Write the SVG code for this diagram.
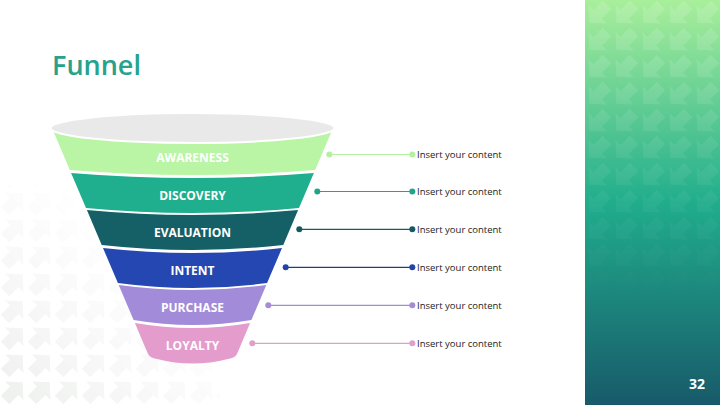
<svg xmlns="http://www.w3.org/2000/svg" width="720" height="405" viewBox="0 0 720 405">
  <defs>
    <linearGradient id="panelGrad" x1="0" y1="0" x2="0" y2="1">
      <stop offset="0" stop-color="#a9ef9b"/>
      <stop offset="0.5" stop-color="#20ad8c"/>
      <stop offset="1" stop-color="#185a6a"/>
    </linearGradient>
    <linearGradient id="fadeV" x1="0" y1="0" x2="0" y2="1">
      <stop offset="0" stop-color="#fff" stop-opacity="1"/>
      <stop offset="0.75" stop-color="#fff" stop-opacity="0"/>
    </linearGradient>
    <linearGradient id="fadeLL" x1="0" y1="1" x2="1" y2="0">
      <stop offset="0" stop-color="#fff" stop-opacity="1"/>
      <stop offset="0.65" stop-color="#fff" stop-opacity="0"/>
    </linearGradient>
    <mask id="panelMask">
      <rect x="585" y="0" width="135" height="405" fill="url(#fadeV)"/>
    </mask>
    <mask id="llMask">
      <rect x="0" y="185" width="220" height="220" fill="url(#fadeLL)"/>
    </mask>
    <pattern id="arrowsLight" x="585" y="0" width="27" height="27" patternUnits="userSpaceOnUse">
      <polygon transform="translate(13.5 13.5) rotate(135)" points="-12,-6 1,-6 1,-13 13,0 1,13 1,6 -12,6" fill="#ffffff" fill-opacity="0.14"/>
    </pattern>
    <pattern id="arrowsGray" x="0" y="0" width="27" height="27" patternUnits="userSpaceOnUse">
      <polygon transform="translate(13.5 13.5) rotate(-45)" points="-12,-6 1,-6 1,-13 13,0 1,13 1,6 -12,6" fill="#eef0ee"/>
    </pattern>
    <style>
      .lbl { font-family: "Open Sans", "Liberation Sans", sans-serif; font-weight: 700; font-size: 12px; fill: #ffffff; text-anchor: middle; }
      .note { font-family: "Open Sans", "Liberation Sans", sans-serif; font-size: 9.5px; fill: #222222; }
      .con line { stroke-width: 1.2; }
    </style>
  </defs>

  <rect x="0" y="0" width="720" height="405" fill="#ffffff"/>
  <rect x="0" y="185" width="220" height="220" fill="url(#arrowsGray)" mask="url(#llMask)"/>

  <g id="side-panel">
    <rect x="585" y="0" width="135" height="405" fill="url(#panelGrad)"/>
    <rect x="585" y="0" width="135" height="405" fill="url(#arrowsLight)" mask="url(#panelMask)"/>
    <text x="697" y="389" font-family="'Open Sans', 'Liberation Sans', sans-serif" font-weight="700" font-size="14" fill="#ffffff" text-anchor="middle">32</text>
  </g>

  <text x="52" y="75" font-family="'Open Sans', 'Liberation Sans', sans-serif" font-weight="600" font-size="27" fill="#27a28b">Funnel</text>

  <g id="awareness">
    <path d="M52,128 L333,128 L315.2,170 Q192.5,180 69.8,170 Z" fill="#b9f5a4"/>
    <text class="lbl" x="192.5" y="161.5">AWARENESS</text>
  </g>
  <g id="funnel-top">
    <ellipse cx="192.5" cy="128" rx="142" ry="15" fill="#e9e9e9" stroke="#ffffff" stroke-width="2"/>
  </g>
  <g id="discovery">
    <path d="M71.1,173 Q192.5,183 313.9,173 L299,208 Q192.5,218 86,208 Z" fill="#1fae8e"/>
    <text class="lbl" x="192.5" y="199.5">DISCOVERY</text>
  </g>
  <g id="evaluation">
    <path d="M86.9,210 Q192.5,220 298.1,210 L283.3,245 Q192.5,255 101.7,245 Z" fill="#146066"/>
    <text class="lbl" x="192.5" y="236.5">EVALUATION</text>
  </g>
  <g id="intent">
    <path d="M103,248 Q192.5,258 282,248 L267.1,283 Q192.5,293 117.9,283 Z" fill="#2447b1"/>
    <text class="lbl" x="192.5" y="274.5">INTENT</text>
  </g>
  <g id="purchase">
    <path d="M118.7,285 Q192.5,295 266.3,285 L251.4,320 Q192.5,330 133.6,320 Z" fill="#a28bd9"/>
    <text class="lbl" x="192.5" y="311.5">PURCHASE</text>
  </g>
  <g id="loyalty">
    <path d="M134.9,323 Q192.5,333 250.1,323 L237,354 Q235,358 228,359 Q192.5,368 157,359 Q150,358 148,354 Z" fill="#e39ccb"/>
    <text class="lbl" x="192.5" y="349.5">LOYALTY</text>
  </g>

  <g id="connectors" class="con">
    <g stroke="#b5f0a0" fill="#b5f0a0">
      <line x1="329.3" y1="154.5" x2="412.3" y2="154.5"/>
      <circle cx="329.3" cy="154.5" r="3" stroke="none"/>
      <circle cx="412.3" cy="154.5" r="3" stroke="none"/>
    </g>
    <g stroke="#1fa588" fill="#1fa588">
      <line x1="317.3" y1="191.5" x2="412.3" y2="191.5"/>
      <circle cx="317.3" cy="191.5" r="3" stroke="none"/>
      <circle cx="412.3" cy="191.5" r="3" stroke="none"/>
    </g>
    <g stroke="#155a60" fill="#155a60">
      <line x1="299.3" y1="229.3" x2="412.3" y2="229.3"/>
      <circle cx="299.3" cy="229.3" r="3" stroke="none"/>
      <circle cx="412.3" cy="229.3" r="3" stroke="none"/>
    </g>
    <g stroke="#1f3f85" fill="#2244a8">
      <line x1="285.7" y1="267.3" x2="412.3" y2="267.3"/>
      <circle cx="285.7" cy="267.3" r="3" stroke="none"/>
      <circle cx="412.3" cy="267.3" r="3" stroke="none"/>
    </g>
    <g stroke="#a58dd6" fill="#a58dd6">
      <line x1="268.3" y1="305.3" x2="412.3" y2="305.3"/>
      <circle cx="268.3" cy="305.3" r="3" stroke="none"/>
      <circle cx="412.3" cy="305.3" r="3" stroke="none"/>
    </g>
    <g stroke="#e0a0c8" fill="#e0a0c8">
      <line x1="252.3" y1="343.3" x2="412.3" y2="343.3"/>
      <circle cx="252.3" cy="343.3" r="3" stroke="none"/>
      <circle cx="412.3" cy="343.3" r="3" stroke="none"/>
    </g>
  </g>

  <g id="notes">
    <text class="note" x="417" y="158">Insert your content</text>
    <text class="note" x="417" y="195">Insert your content</text>
    <text class="note" x="417" y="232.8">Insert your content</text>
    <text class="note" x="417" y="270.8">Insert your content</text>
    <text class="note" x="417" y="308.8">Insert your content</text>
    <text class="note" x="417" y="346.8">Insert your content</text>
  </g>
</svg>
